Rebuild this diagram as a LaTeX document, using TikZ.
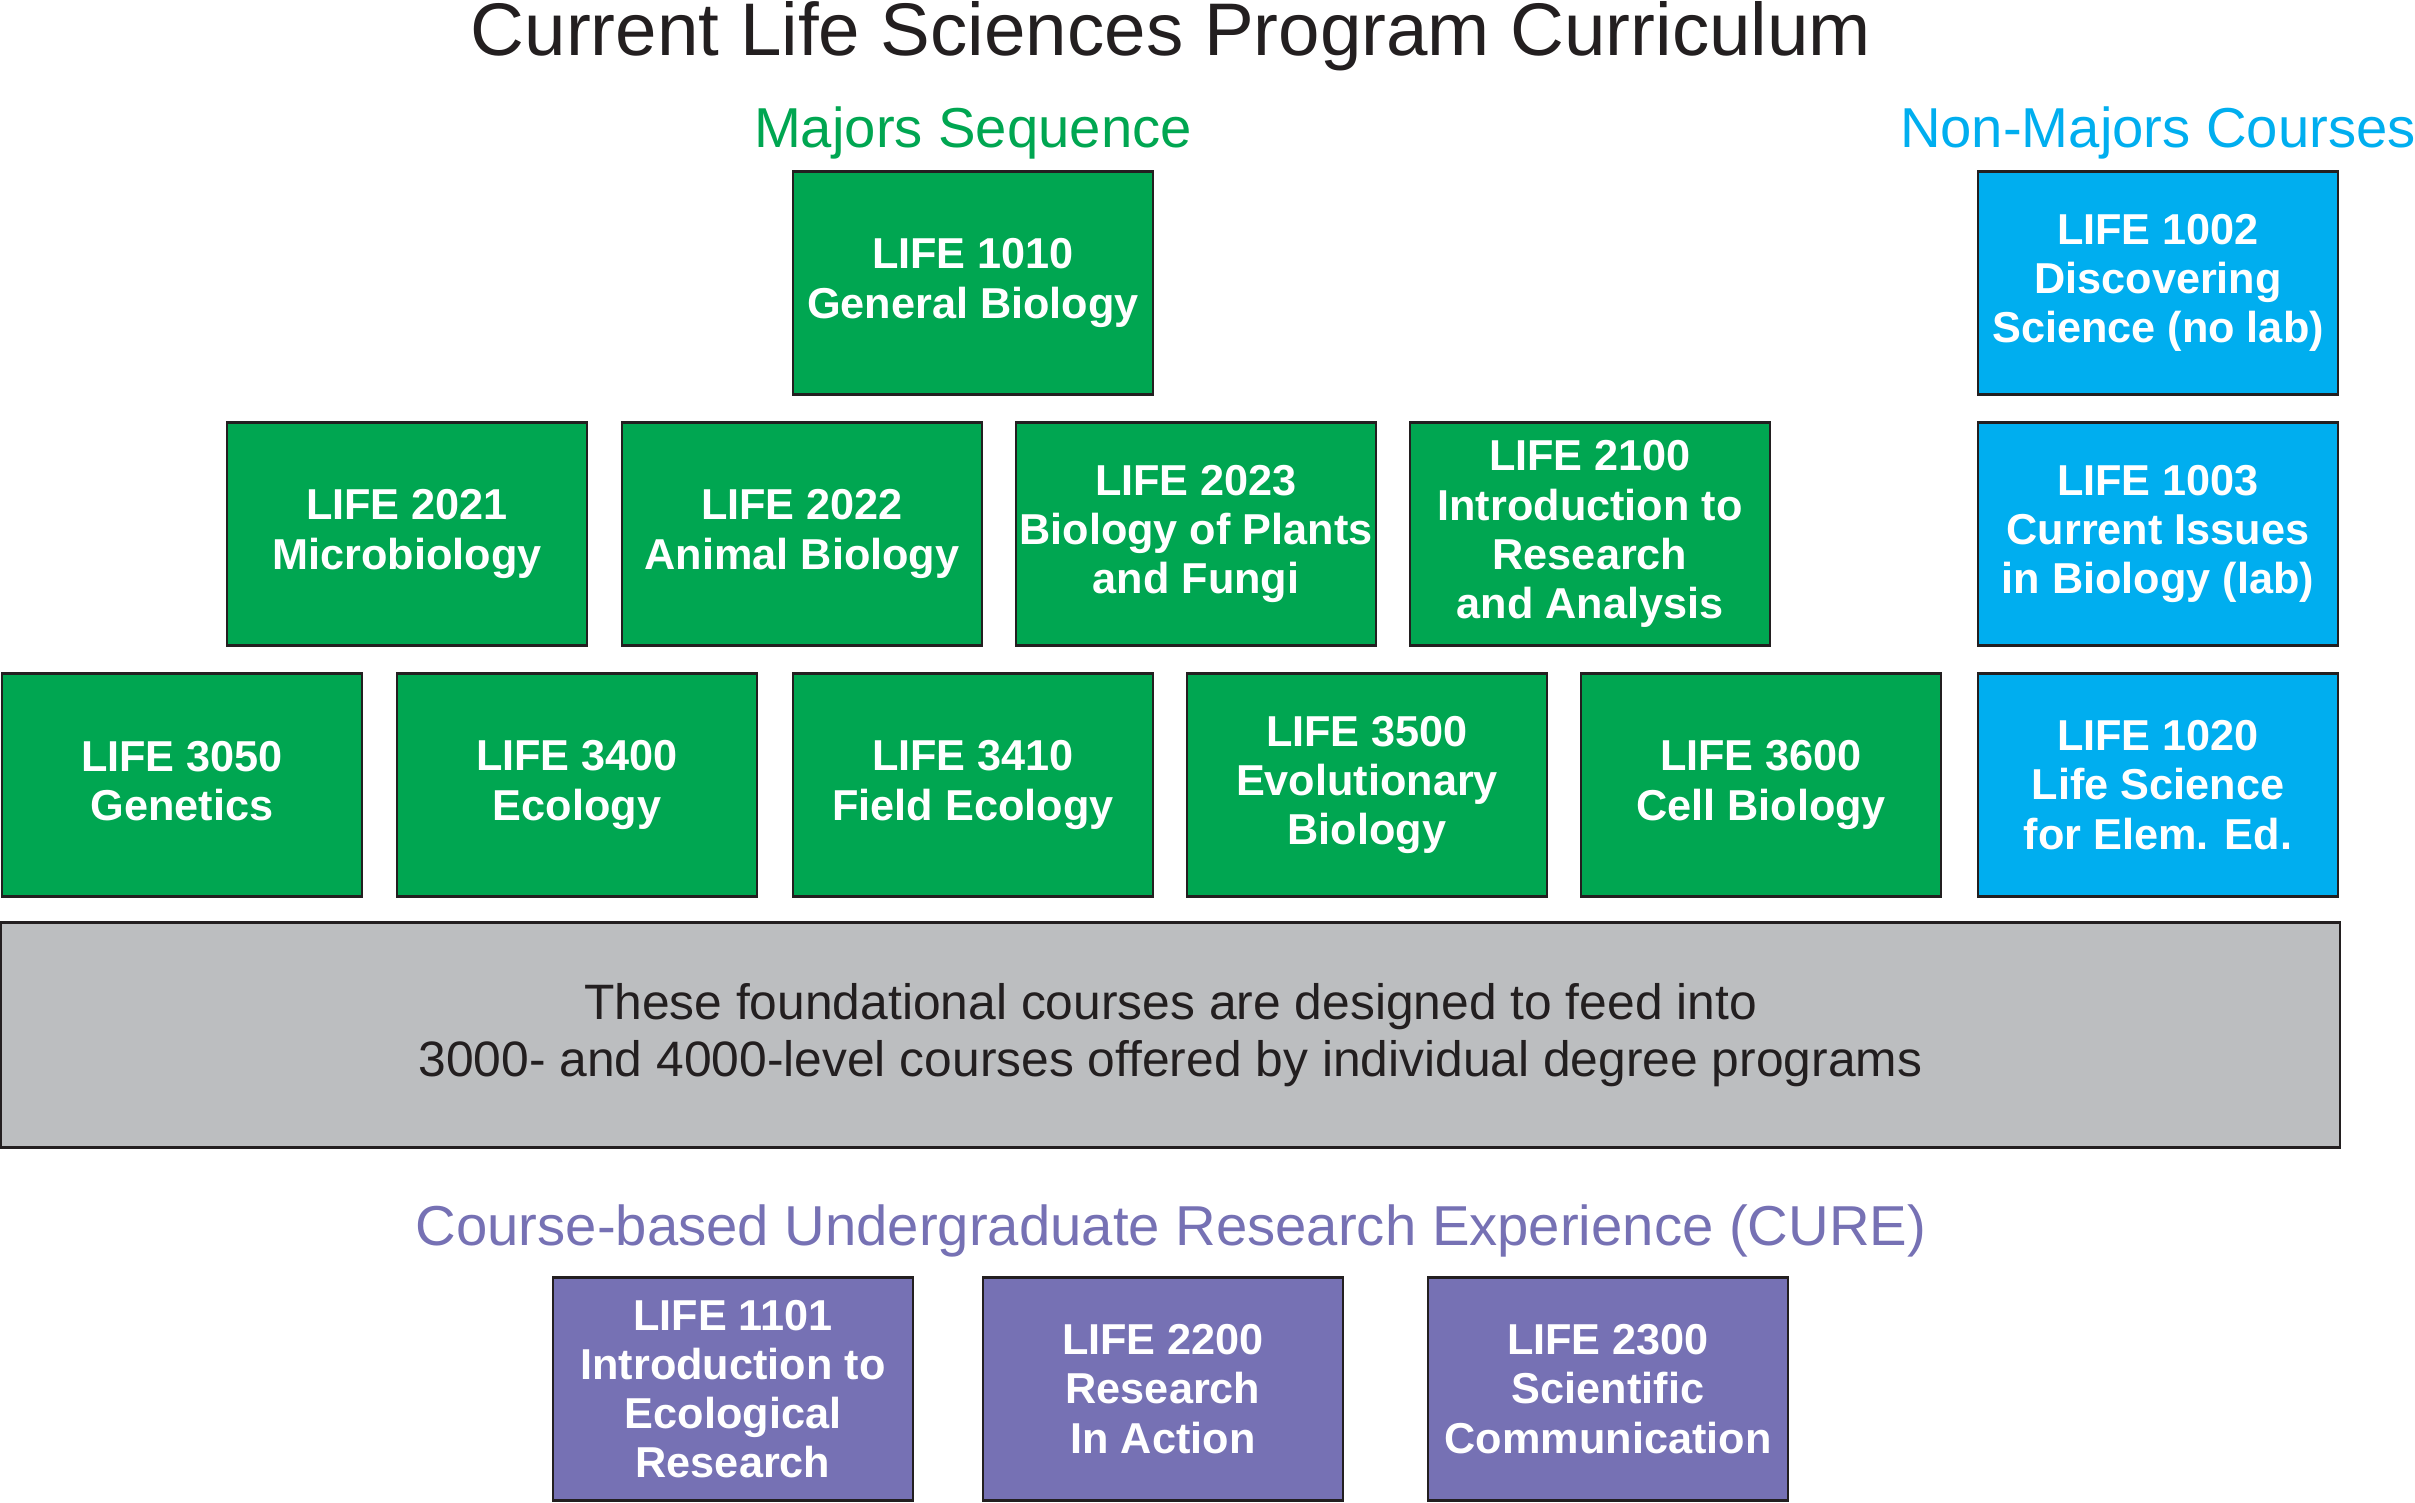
\documentclass[tikz,border=0pt]{standalone}
\usepackage{fontspec}
\setmainfont{Liberation Sans}
\usepackage{tikz}
\definecolor{majgreen}{RGB}{0,166,81}
\definecolor{nonblue}{RGB}{0,174,239}
\definecolor{curepurple}{RGB}{118,113,180}
\definecolor{foundgray}{RGB}{188,190,192}
\definecolor{ink}{RGB}{35,31,32}
\tikzset{
  course/.style={draw=ink,line width=0.7pt,text=white,align=center,font=\fontsize{12.3}{14}\selectfont\bfseries,minimum width=3.6cm,minimum height=2.23cm,inner sep=0.5pt},
  head/.style={anchor=base,font=\fontsize{16}{19}\selectfont}
}
\begin{document}
\begin{tikzpicture}[x=0.01cm,y=-0.01cm,
 maj/.style={course,fill=majgreen},
 nonmaj/.style={course,fill=nonblue},
 cure/.style={course,fill=curepurple}]
\useasboundingbox (0,0) rectangle (2415,1503);
% headings
\node[anchor=base,font=\fontsize{21.2}{25}\selectfont,text=ink] (title) at (1171,56) {Current Life Sciences Program Curriculum};
\node[head,text=majgreen] (hmaj) at (973,148) {Majors Sequence};
\node[head,text=nonblue] (hnon) at (2158,148) {Non-Majors Courses};
% majors sequence
\node[maj] (m1010) at (973,283) {LIFE 1010\\General Biology};
\foreach \n/\x/\t in {m2021/407/{LIFE 2021\\Microbiology}, m2022/802/{LIFE 2022\\Animal Biology}, m2023/1196/{LIFE 2023\\Biology of Plants\\and Fungi}, m2100/1590/{LIFE 2100\\Introduction to\\Research\\and Analysis}}
  \node[maj] (\n) at (\x,534) {\t};
\foreach \n/\x/\t in {m3050/182/{LIFE 3050\\Genetics\vphantom{y}}, m3400/577/{LIFE 3400\\Ecology}, m3410/973/{LIFE 3410\\Field Ecology}, m3500/1367/{LIFE 3500\\Evolutionary\\Biology}, m3600/1761/{LIFE 3600\\Cell Biology}}
  \node[maj] (\n) at (\x,785) {\t};
% non-majors
\foreach \n/\y/\t in {n1002/283/{LIFE 1002\\Discovering\\Science (no lab)}, n1003/534/{LIFE 1003\\Current Issues\\in Biology (lab)}, n1020/785/{LIFE 1020\\Life Science\\for Elem. Ed.}}
  \node[nonmaj] (\n) at (2158,\y) {\t};
% foundation note
\node[draw=ink,line width=0.7pt,fill=foundgray,minimum width=23.38cm,minimum height=2.25cm,font=\fontsize{14.15}{16.2}\selectfont,text=ink,align=center] (found) at (1170.5,1035) {These foundational courses are designed to feed into\\3000- and 4000-level courses offered by individual degree programs};
% CURE
\node[head,text=curepurple] (hcure) at (1171,1245) {Course-based Undergraduate Research Experience (CURE)};
\foreach \n/\x/\t in {c1101/733/{LIFE 1101\\Introduction to\\Ecological\\Research}, c2200/1163/{LIFE 2200\\Research\\In Action}, c2300/1608/{LIFE 2300\\Scientific\\Communication}}
  \node[cure] (\n) at (\x,1389) {\t};
\end{tikzpicture}
\end{document}
